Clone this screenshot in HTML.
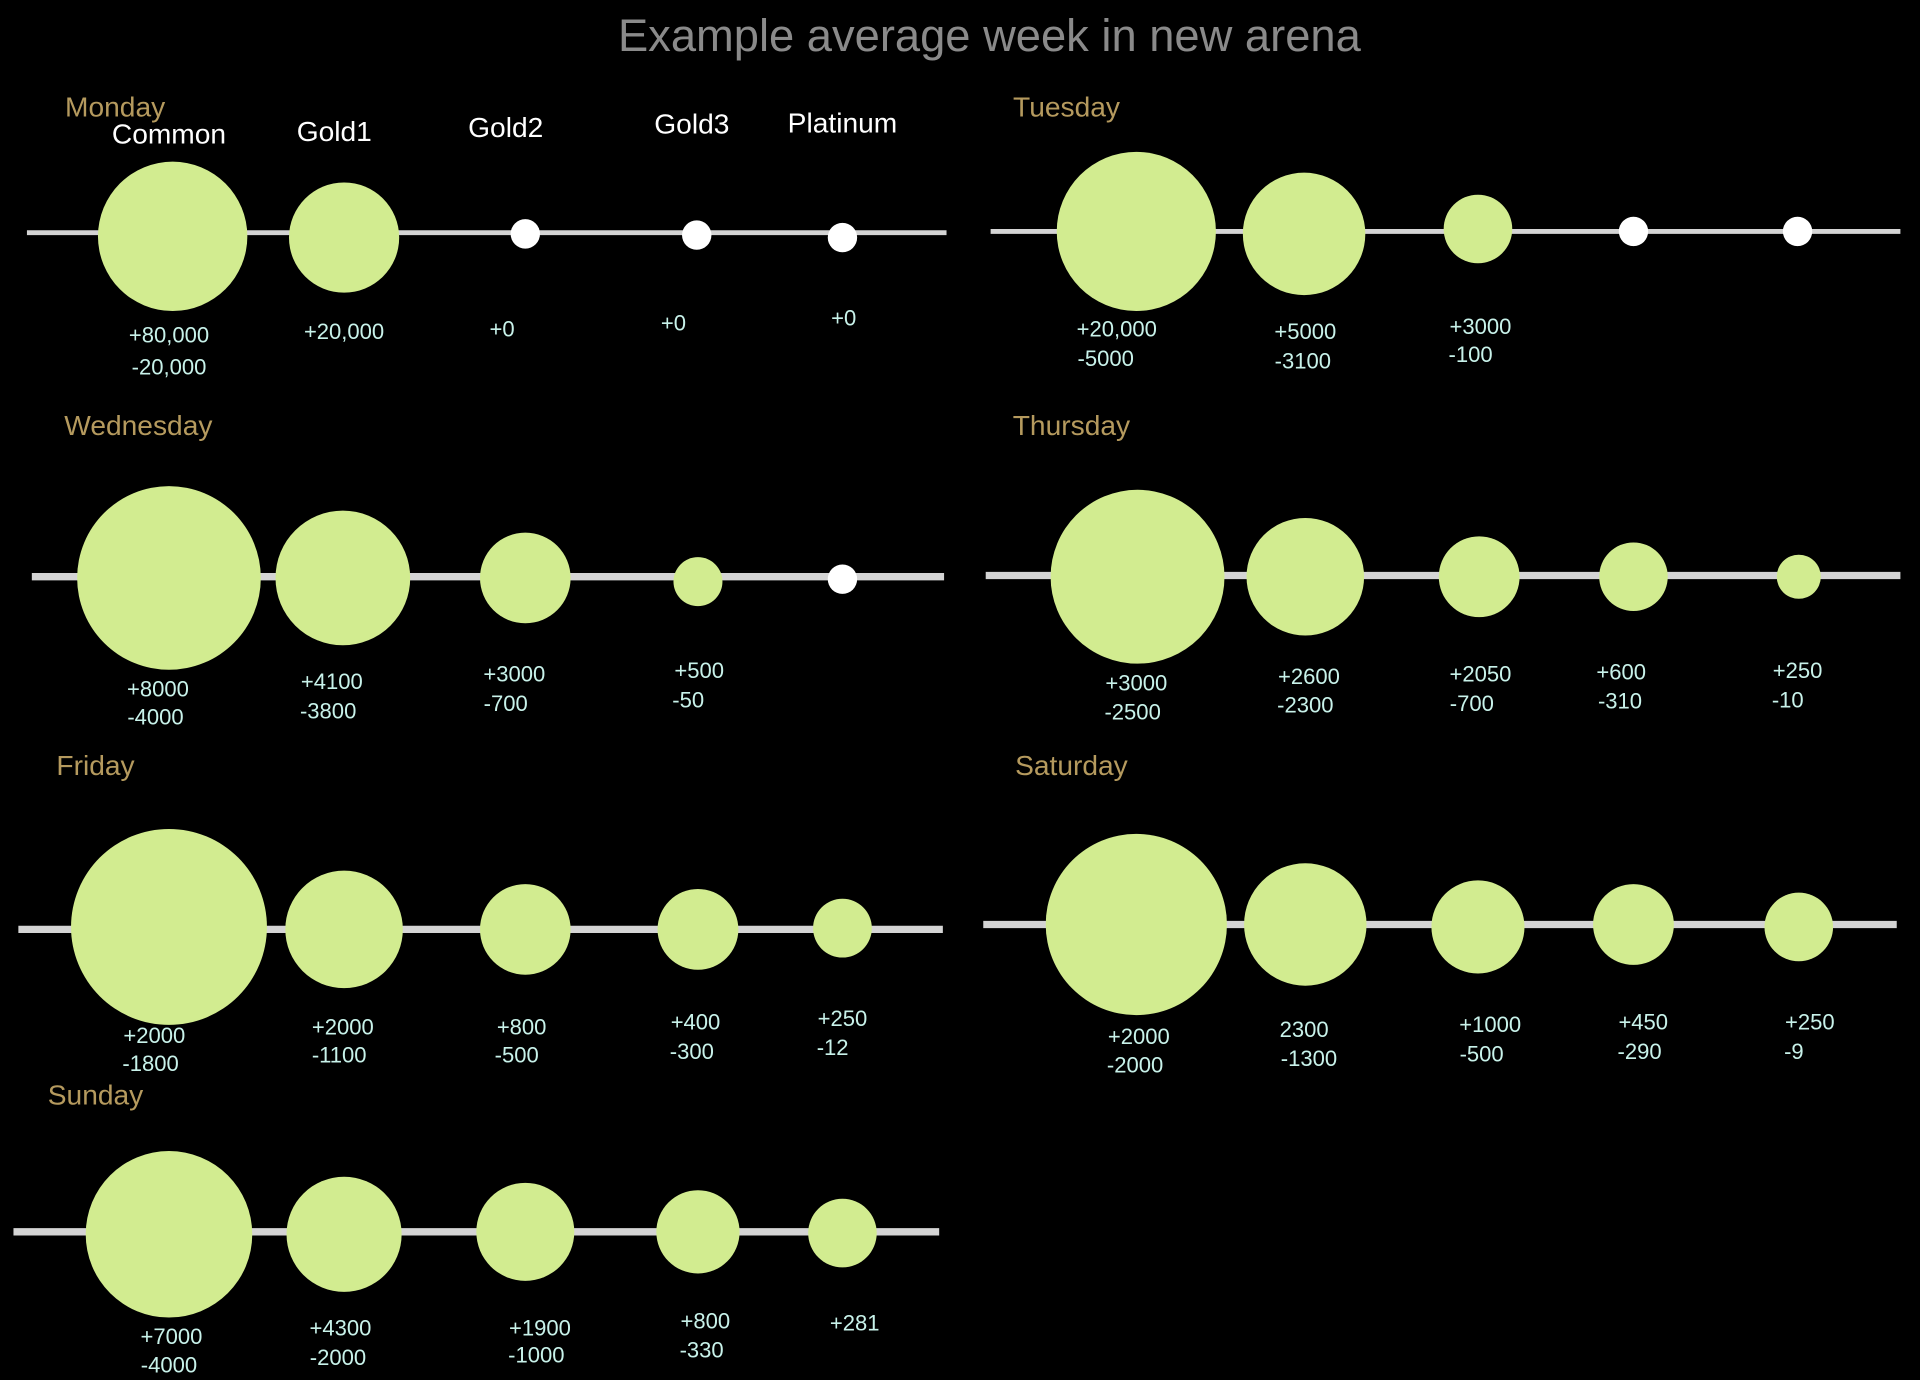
<!DOCTYPE html>
<html><head><meta charset="utf-8"><style>
html,body{margin:0;padding:0;background:#000;}
svg{display:block;}
text{font-family:"Liberation Sans",sans-serif;dominant-baseline:middle;text-anchor:middle;transform:translateY(2px);}
.t{fill:#8a8a8a;font-size:37px;}
.d{fill:#b59a5e;font-size:23px;}
.h{fill:#fff;font-size:23px;}
.v{fill:#c8f2ea;font-size:18px;}
.c{fill:#d2ec90;}
.w{fill:#fff;}
line{stroke:#d4d4d4;}
</style></head><body>
<svg width="1920" height="1380" viewBox="0 0 1568 1127" xmlns="http://www.w3.org/2000/svg">
<rect width="1568" height="1127" fill="#000"/>
<text class="t" x="808" y="30">Example average week in new arena</text>

<!-- Monday -->
<text class="d" x="94" y="87">Monday</text>
<text class="h" x="138" y="109">Common</text>
<text class="h" x="273" y="107">Gold1</text>
<text class="h" x="413" y="104">Gold2</text>
<text class="h" x="565" y="101">Gold3</text>
<text class="h" x="688" y="100">Platinum</text>
<line x1="22" y1="190" x2="773" y2="190" stroke-width="4"/>
<circle class="c" cx="141" cy="193" r="61"/>
<circle class="c" cx="281" cy="194" r="45"/>
<circle class="w" cx="429" cy="191" r="12"/>
<circle class="w" cx="569" cy="192" r="12"/>
<circle class="w" cx="688" cy="194" r="12"/>
<text class="v" x="138" y="273">+80,000</text><text class="v" x="138" y="299">-20,000</text>
<text class="v" x="281" y="270">+20,000</text>
<text class="v" x="410" y="268">+0</text>
<text class="v" x="550" y="263">+0</text>
<text class="v" x="689" y="259">+0</text>

<!-- Tuesday -->
<text class="d" x="871" y="87">Tuesday</text>
<line x1="809" y1="189" x2="1552" y2="189" stroke-width="4"/>
<circle class="c" cx="928" cy="189" r="65"/>
<circle class="c" cx="1065" cy="191" r="50"/>
<circle class="c" cx="1207" cy="187" r="28"/>
<circle class="w" cx="1334" cy="189" r="12"/>
<circle class="w" cx="1468" cy="189" r="12"/>
<text class="v" x="912" y="268">+20,000</text><text class="v" x="903" y="292">-5000</text>
<text class="v" x="1066" y="270">+5000</text><text class="v" x="1064" y="294">-3100</text>
<text class="v" x="1209" y="266">+3000</text><text class="v" x="1201" y="289">-100</text>

<!-- Wednesday -->
<text class="d" x="113" y="347">Wednesday</text>
<line x1="26" y1="471" x2="771" y2="471" stroke-width="6"/>
<circle class="c" cx="138" cy="472" r="75"/>
<circle class="c" cx="280" cy="472" r="55"/>
<circle class="c" cx="429" cy="472" r="37"/>
<circle class="c" cx="570" cy="475" r="20"/>
<circle class="w" cx="688" cy="473" r="12"/>
<text class="v" x="129" y="562">+8000</text><text class="v" x="127" y="585">-4000</text>
<text class="v" x="271" y="556">+4100</text><text class="v" x="268" y="580">-3800</text>
<text class="v" x="420" y="550">+3000</text><text class="v" x="413" y="574">-700</text>
<text class="v" x="571" y="547">+500</text><text class="v" x="562" y="571">-50</text>

<!-- Thursday -->
<text class="d" x="875" y="347">Thursday</text>
<line x1="805" y1="470" x2="1552" y2="470" stroke-width="6"/>
<circle class="c" cx="929" cy="471" r="71"/>
<circle class="c" cx="1066" cy="471" r="48"/>
<circle class="c" cx="1208" cy="471" r="33"/>
<circle class="c" cx="1334" cy="471" r="28"/>
<circle class="c" cx="1469" cy="471" r="18"/>
<text class="v" x="928" y="557">+3000</text><text class="v" x="925" y="581">-2500</text>
<text class="v" x="1069" y="552">+2600</text><text class="v" x="1066" y="575">-2300</text>
<text class="v" x="1209" y="550">+2050</text><text class="v" x="1202" y="574">-700</text>
<text class="v" x="1324" y="548">+600</text><text class="v" x="1323" y="572">-310</text>
<text class="v" x="1468" y="547">+250</text><text class="v" x="1460" y="571">-10</text>

<!-- Friday -->
<text class="d" x="78" y="625">Friday</text>
<line x1="15" y1="759" x2="770" y2="759" stroke-width="6"/>
<circle class="c" cx="138" cy="757" r="80"/>
<circle class="c" cx="281" cy="759" r="48"/>
<circle class="c" cx="429" cy="759" r="37"/>
<circle class="c" cx="570" cy="759" r="33"/>
<circle class="c" cx="688" cy="758" r="24"/>
<text class="v" x="126" y="845">+2000</text><text class="v" x="123" y="868">-1800</text>
<text class="v" x="280" y="838">+2000</text><text class="v" x="277" y="861">-1100</text>
<text class="v" x="426" y="838">+800</text><text class="v" x="422" y="861">-500</text>
<text class="v" x="568" y="834">+400</text><text class="v" x="565" y="858">-300</text>
<text class="v" x="688" y="831">+250</text><text class="v" x="680" y="855">-12</text>

<!-- Saturday -->
<text class="d" x="875" y="625">Saturday</text>
<line x1="803" y1="755" x2="1549" y2="755" stroke-width="6"/>
<circle class="c" cx="928" cy="755" r="74"/>
<circle class="c" cx="1066" cy="755" r="50"/>
<circle class="c" cx="1207" cy="757" r="38"/>
<circle class="c" cx="1334" cy="755" r="33"/>
<circle class="c" cx="1469" cy="757" r="28"/>
<text class="v" x="930" y="846">+2000</text><text class="v" x="927" y="869">-2000</text>
<text class="v" x="1065" y="840">2300</text><text class="v" x="1069" y="864">-1300</text>
<text class="v" x="1217" y="836">+1000</text><text class="v" x="1210" y="860">-500</text>
<text class="v" x="1342" y="834">+450</text><text class="v" x="1339" y="858">-290</text>
<text class="v" x="1478" y="834">+250</text><text class="v" x="1465" y="858">-9</text>

<!-- Sunday -->
<text class="d" x="78" y="894">Sunday</text>
<line x1="11" y1="1006" x2="767" y2="1006" stroke-width="6"/>
<circle class="c" cx="138" cy="1008" r="68"/>
<circle class="c" cx="281" cy="1008" r="47"/>
<circle class="c" cx="429" cy="1006" r="40"/>
<circle class="c" cx="570" cy="1006" r="34"/>
<circle class="c" cx="688" cy="1007" r="28"/>
<text class="v" x="140" y="1091">+7000</text><text class="v" x="138" y="1114">-4000</text>
<text class="v" x="278" y="1084">+4300</text><text class="v" x="276" y="1108">-2000</text>
<text class="v" x="441" y="1084">+1900</text><text class="v" x="438" y="1106">-1000</text>
<text class="v" x="576" y="1078">+800</text><text class="v" x="573" y="1102">-330</text>
<text class="v" x="698" y="1080">+281</text>
</svg>
</body></html>
